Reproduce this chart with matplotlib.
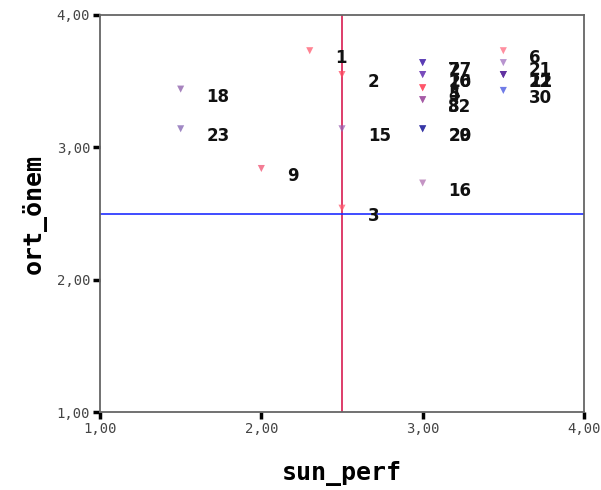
import matplotlib
matplotlib.use("Agg")
import matplotlib.pyplot as plt
from matplotlib.ticker import FixedLocator, FuncFormatter

# ---- data (case labels, sun_perf, ort_önem) ----
case_labels = ["1", "2", "3", "9", "15", "18", "23", "16",
               "7", "27", "26", "10", "4", "5", "8", "32", "20", "29",
               "6", "21", "11", "12", "22", "30"]
sun_perf = [2.30, 2.50, 2.50, 2.00, 2.50, 1.50, 1.50, 3.00,
            3.00, 3.00, 3.00, 3.00, 3.00, 3.00, 3.00, 3.00, 3.00, 3.00,
            3.50, 3.50, 3.50, 3.50, 3.50, 3.50]
ort_onem = [3.73, 3.55, 2.54, 2.84, 3.14, 3.44, 3.14, 2.73,
            3.64, 3.64, 3.55, 3.55, 3.45, 3.45, 3.36, 3.36, 3.14, 3.14,
            3.73, 3.64, 3.55, 3.55, 3.55, 3.43]
point_colors = ["#ff5a6e", "#ff4a60", "#ff5a6e", "#f05070", "#9a60b0", "#8a5aa8", "#8060b0", "#b070b0",
                "#5030b0", "#5030b0", "#7040b8", "#7040b8", "#ff4a60", "#ff4a60", "#a050a0", "#a050a0", "#2a2aa0", "#2a2aa0",
                "#ff6a80", "#a070c0", "#6030a0", "#6030a0", "#6030a0", "#4050e0"]

ticks = [1.0, 2.0, 3.0, 4.0]
x_ref = 2.5
y_ref = 2.5

fig = plt.figure(figsize=(6.01, 4.90), dpi=100)
ax = fig.add_axes([100 / 601, 1 - 412 / 490, 484 / 601, 397 / 490])

ax.axvline(x_ref, color="#d81b50", lw=1.2, zorder=1)
ax.axhline(y_ref, color="#1f2dff", lw=1.2, zorder=1)

ax.scatter(sun_perf, ort_onem, marker="v", s=26, c=point_colors,
           alpha=0.75, linewidths=0, zorder=3)

# labels sit ~26 px right and ~7 px below each point
for lab, xv, yv in zip(case_labels, sun_perf, ort_onem):
    ax.annotate(lab, (xv, yv), xytext=(18.5, -5.5), textcoords="offset points",
                ha="left", va="center", fontsize=12, fontweight="bold",
                color="#111111", zorder=4)

ax.set_xlim(1, 4)
ax.set_ylim(1, 4)
ax.xaxis.set_major_locator(FixedLocator(ticks))
ax.yaxis.set_major_locator(FixedLocator(ticks))
fmt = FuncFormatter(lambda v, p: f"{v:.2f}".replace(".", ","))
ax.xaxis.set_major_formatter(fmt)
ax.yaxis.set_major_formatter(fmt)
ax.tick_params(length=5, width=2.5, color="black", labelsize=10,
               labelcolor="#444444", direction="out", pad=2)
for lbl in ax.get_xticklabels() + ax.get_yticklabels():
    lbl.set_family("DejaVu Sans Mono")

for sp in ax.spines.values():
    sp.set_color("#666666")
    sp.set_linewidth(1.3)

ax.set_xlabel("sun_perf", fontsize=18, fontweight="bold",
              family="DejaVu Sans Mono", labelpad=18)
ax.set_ylabel("ort_önem", fontsize=18, fontweight="bold",
              family="DejaVu Sans Mono", labelpad=7)

fig.savefig("out.png", dpi=100)
